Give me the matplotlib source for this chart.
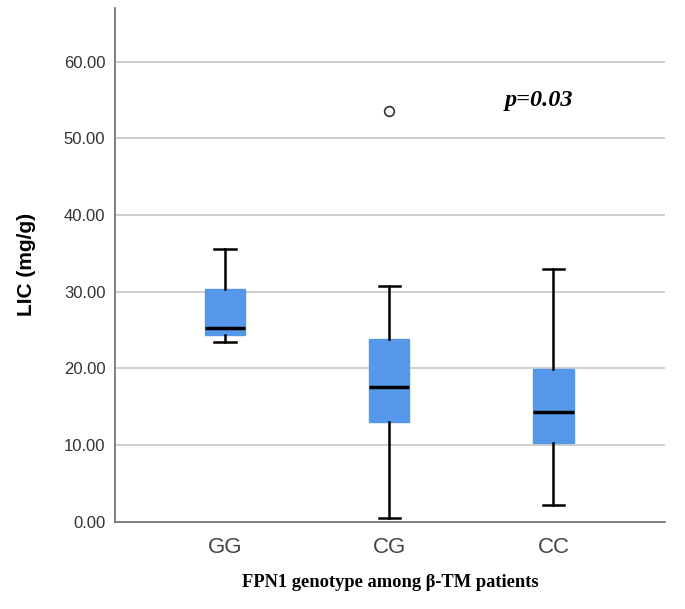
import matplotlib
matplotlib.use("Agg")
import matplotlib.pyplot as plt

# genotype groups and box statistics (LIC, mg/g)
groups = ["GG", "CG", "CC"]
whislo = [23.5, 0.5, 2.2]
q1 = [24.4, 13.0, 10.3]
med = [25.3, 17.6, 14.3]
q3 = [30.4, 23.8, 19.9]
whishi = [35.6, 30.7, 33.0]
fliers = [[], [53.5], []]

yticks = [0, 10, 20, 30, 40, 50, 60]

stats = []
for i, g in enumerate(groups):
    stats.append(dict(label=g, whislo=whislo[i], q1=q1[i], med=med[i],
                      q3=q3[i], whishi=whishi[i], fliers=fliers[i]))

fig = plt.figure(figsize=(6.85, 6.09), dpi=100)
ax = fig.add_axes([0.168, 0.143, 0.803, 0.844])

ax.bxp(stats, positions=range(len(groups)), widths=0.245, patch_artist=True,
       boxprops=dict(facecolor="#5598E9", edgecolor="#5598E9", linewidth=1),
       medianprops=dict(color="black", linewidth=2.5),
       whiskerprops=dict(color="black", linewidth=1.8),
       capprops=dict(color="black", linewidth=1.8),
       capwidths=0.13,
       flierprops=dict(marker="o", markerfacecolor="white", markeredgecolor="#333333",
                       markersize=7, markeredgewidth=1.2),
       zorder=3)

ax.set_xlim(-0.67, 2.68)
ax.set_ylim(0, 67)
ax.set_yticks(yticks)
ax.set_yticklabels([f"{v:.2f}" for v in yticks], fontsize=12, color="#333333",
                   family="Liberation Sans")
ax.set_xticks(range(len(groups)))
ax.set_xticklabels(groups, fontsize=16, color="#444444", family="Liberation Sans")
ax.tick_params(axis="both", length=0, pad=7)
ax.tick_params(axis="x", pad=11)

ax.yaxis.grid(True, color="#cccccc", linewidth=1.3)
ax.set_axisbelow(True)
for s in ["top", "right"]:
    ax.spines[s].set_visible(False)
for s in ["left", "bottom"]:
    ax.spines[s].set_color("#777777")
    ax.spines[s].set_linewidth(1.3)

ax.set_ylabel("LIC (mg/g)", fontsize=15, fontweight="bold", family="Liberation Sans",
              labelpad=20)
ax.text(0.5, -0.118, "FPN1 genotype among β-TM patients", transform=ax.transAxes,
        ha="center", va="center", fontsize=13.3, fontweight="bold",
        family="Liberation Serif")
ax.text(0.77, 0.82, "p=0.03", transform=ax.transAxes, ha="center", va="center",
        fontsize=17.5, fontweight="bold", style="italic", family="Liberation Serif")

fig.savefig("out.png", dpi=100)
